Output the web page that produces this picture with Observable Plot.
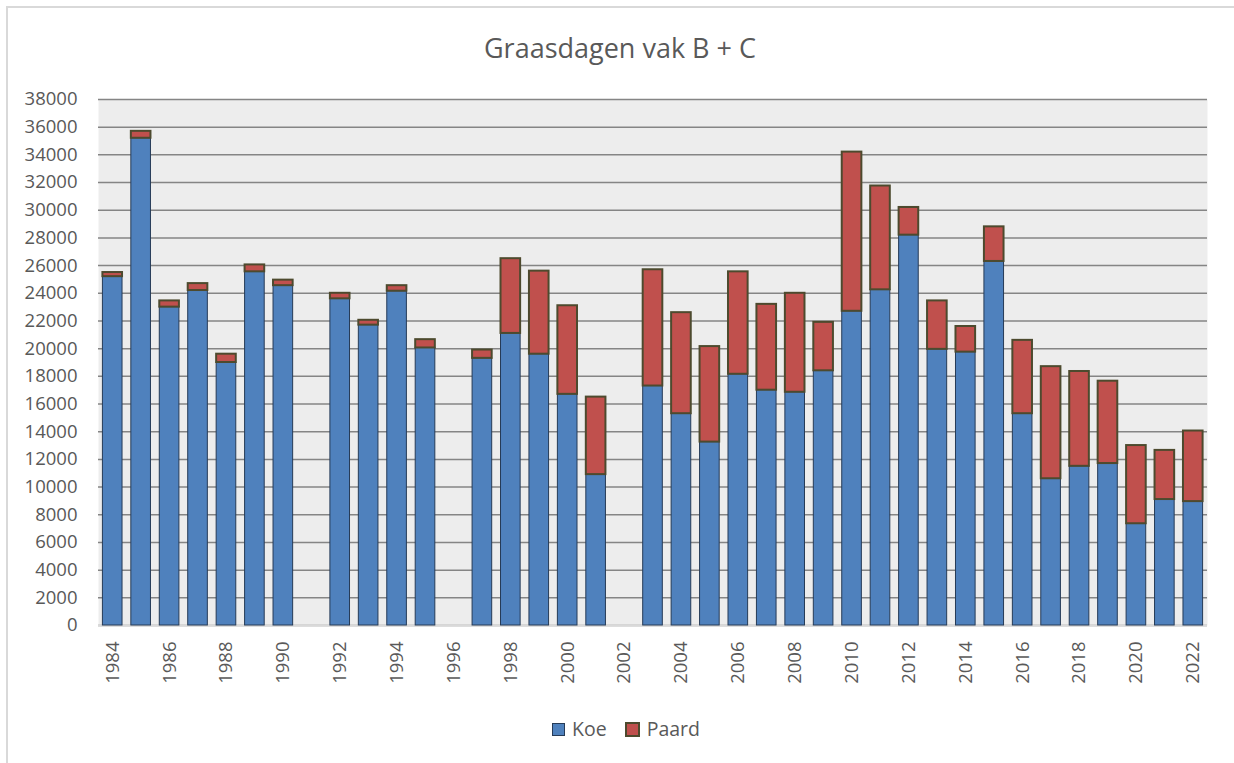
<!DOCTYPE html>
<html>
<head>
<meta charset="utf-8">
<script src="https://cdn.jsdelivr.net/npm/d3@7"></script>
<script src="https://cdn.jsdelivr.net/npm/@observablehq/plot@0.6"></script>
<style>
html, body { margin: 0; padding: 0; background: #fff; overflow: hidden; }
body { font-family: "Open Sans", sans-serif; color: #595959; }
#frame { position: absolute; left: 6px; top: 6px; width: 1400px; height: 900px; border-top: 2px solid #d9d9d9; border-left: 2px solid #d9d9d9; pointer-events: none; }
#wrap { position: relative; width: 1234px; }
#title { position: relative; height: 80px; }
#title span { position: absolute; left: 0; right: 0; top: 34px; text-align: center; font-size: 27px; line-height: 27px; color: #595959; padding-left: 6px; }
#chart svg { display: block; }
#legend { display: flex; justify-content: center; align-items: center; padding-left: 18px; margin-top: 17px; font-size: 19.5px; line-height: 24px; color: #595959; }
.item { display: flex; align-items: center; margin: 0 9px; }
.sw { width: 11px; height: 11px; margin-right: 7px; box-sizing: content-box; }
</style>
</head>
<body>
<div id="frame"></div>
<div id="wrap">
  <div id="title"><span>Graasdagen vak B + C</span></div>
  <div id="chart"></div>
  <div id="legend"></div>
</div>
<script>
// Data
const years = [1984,1985,1986,1987,1988,1989,1990,1992,1993,1994,1995,1997,1998,1999,2000,2001,2003,2004,2005,2006,2007,2008,2009,2010,2011,2012,2013,2014,2015,2016,2017,2018,2019,2020,2021,2022];
const koe   = [25200,35200,23000,24200,19000,25550,24550,23600,21700,24150,20050,19300,21100,19600,16700,10900,17300,15300,13250,18150,17000,16850,18400,22700,24250,28200,19950,19750,26300,15300,10600,11500,11700,7350,9100,8950];
const paard = [300,500,450,500,600,500,400,400,350,400,600,600,5400,6000,6400,5600,8400,7300,6900,7400,6200,7150,3500,11500,7500,2000,3500,1850,2500,5300,8100,6850,5950,5650,3550,5100];
const seriesNames = ["Koe", "Paard"];
const seriesColors = ["#4f81bd", "#c0504d"];
const seriesStrokes = ["#263b57", "#4d4a2e"];
const allYears = d3.range(1984, 2023);
const xTicks = d3.range(1984, 2023, 2);
const yTicks = d3.range(0, 38001, 2000);

const rows = years.map((y, i) => ({year: y, koe: koe[i], paard: paard[i]}));

const chart = Plot.plot({
  width: 1234,
  height: 620,
  marginTop: 19,
  marginBottom: 75,
  marginLeft: 98,
  marginRight: 27,
  style: {fontFamily: "Open Sans, sans-serif", fontSize: "18.5px", color: "#595959", background: "transparent"},
  x: {type: "band", domain: allYears, paddingInner: 0.31, paddingOuter: 0.155, round: false},
  y: {domain: [0, 38000]},
  marks: [
    Plot.frame({fill: "#ededed", stroke: null}),
    Plot.gridY(yTicks, {stroke: "#858585", strokeOpacity: 1, strokeWidth: 1.5}),
    Plot.ruleY([0], {stroke: "#d9d9d9", strokeWidth: 2}),
    Plot.barY(rows, {x: "year", y1: () => 0, y2: "koe", fill: seriesColors[0], stroke: seriesStrokes[0], strokeWidth: 1}),
    Plot.barY(rows, {x: "year", y1: "koe", y2: d => d.koe + d.paard, fill: seriesColors[1], stroke: seriesStrokes[1], strokeWidth: 2}),
    Plot.axisY(yTicks, {tickSize: 0, tickPadding: 21, label: null, tickFormat: d => String(d)}),
    Plot.axisX(xTicks, {tickSize: 0, tickPadding: 16, tickRotate: -90, label: null, tickFormat: d => String(d)})
  ]
});
document.getElementById("chart").appendChild(chart);

const legend = document.getElementById("legend");
seriesNames.forEach((name, i) => {
  const item = document.createElement("div");
  item.className = "item";
  const sw = document.createElement("span");
  sw.className = "sw";
  sw.style.background = seriesColors[i];
  sw.style.border = (i === 0 ? "1.5px" : "2px") + " solid " + seriesStrokes[i];
  const t = document.createElement("span");
  t.textContent = name;
  item.appendChild(sw);
  item.appendChild(t);
  legend.appendChild(item);
});
</script>
</body>
</html>
